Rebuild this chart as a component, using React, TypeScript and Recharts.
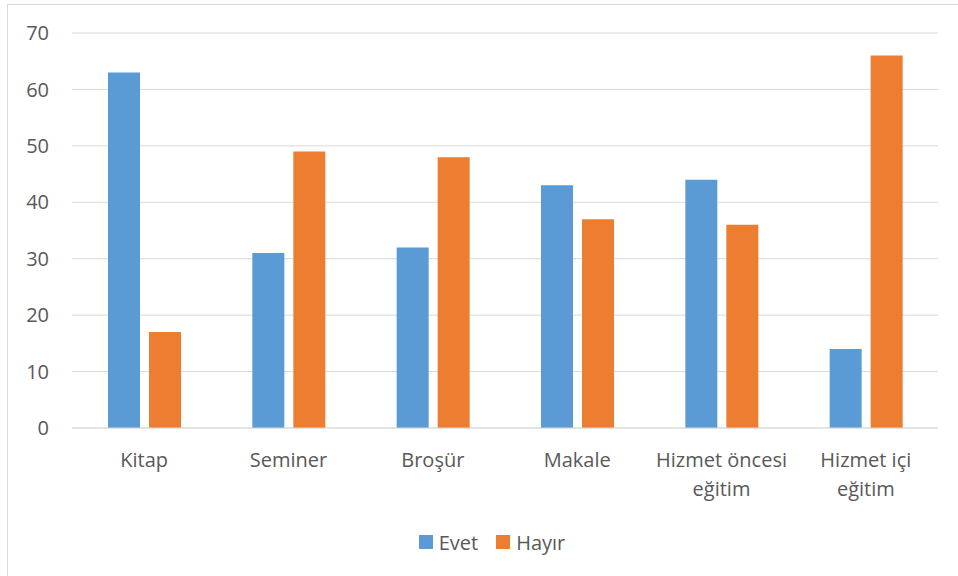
import React from "react";
import { BarChart, Bar, XAxis, YAxis, CartesianGrid, Legend } from "recharts";

const categories = ["Kitap", "Seminer", "Broşür", "Makale", "Hizmet öncesi eğitim", "Hizmet içi eğitim"];
const evet = [63, 31, 32, 43, 44, 14];
const hayir = [17, 49, 48, 37, 36, 66];
const yTicks = [0, 10, 20, 30, 40, 50, 60, 70];

const labelLines: Record<string, string[]> = {
  "Hizmet öncesi eğitim": ["Hizmet öncesi", "eğitim"],
  "Hizmet içi eğitim": ["Hizmet içi", "eğitim"],
};

const data = categories.map((c, i) => ({ name: c, Evet: evet[i], Hayır: hayir[i] }));

const FONT = "'Open Sans', 'Noto Sans', sans-serif";
const TEXT = "#595959";
const BLUE = "#5B9BD5";
const ORANGE = "#ED7D31";
const GRID = "#d9d9d9";

const XTick = (props: any) => {
  const { x, y, payload } = props;
  const lines = labelLines[payload.value] || [payload.value];
  return (
    <text x={x} y={y + 39} textAnchor="middle" fill={TEXT} fontFamily={FONT} fontSize={20}>
      {lines.map((l, i) => (
        <tspan key={i} x={x} dy={i === 0 ? 0 : 29}>
          {l}
        </tspan>
      ))}
    </text>
  );
};

const LegendContent = (props: any) => {
  const { payload } = props;
  return (
    <div style={{ display: "flex", justifyContent: "center", alignItems: "center", height: 30, paddingLeft: 38, boxSizing: "border-box", fontFamily: FONT, fontSize: 20, color: TEXT }}>
      {payload.map((p: any, i: number) => (
        <div key={i} style={{ display: "flex", alignItems: "center", marginLeft: i === 0 ? 0 : 18 }}>
          <span style={{ display: "inline-block", width: 14, height: 14, background: p.color, marginRight: 6 }} />
          <span>{p.value}</span>
        </div>
      ))}
    </div>
  );
};

export default function App() {
  return (
    <div style={{ position: "fixed", left: 0, top: 0, width: 958, height: 576, overflow: "hidden", background: "#fff" }}>
      <div style={{ position: "absolute", left: 7, top: 4, width: 1000, height: 1000, border: `1px solid ${GRID}` }} />
      <div style={{ position: "absolute", left: 0, top: 0 }}>
        <BarChart width={958} height={576} data={data} margin={{ top: 33, right: 20, left: 8, bottom: 19 }} barSize={32} barGap={9}>
          <CartesianGrid vertical={false} stroke={GRID} strokeWidth={1} />
          <XAxis dataKey="name" height={99} tickSize={0} tickMargin={0} axisLine={{ stroke: GRID }} tickLine={false} tick={<XTick />} interval={0} />
          <YAxis width={64} domain={[0, 70]} ticks={yTicks} axisLine={false} tickLine={false} tickSize={0} tickMargin={23} tick={{ fill: TEXT, fontFamily: FONT, fontSize: 20 }} />
          <Legend verticalAlign="bottom" height={30} content={<LegendContent />} />
          <Bar dataKey="Evet" fill={BLUE} isAnimationActive={false} />
          <Bar dataKey="Hayır" fill={ORANGE} isAnimationActive={false} />
        </BarChart>
      </div>
    </div>
  );
}
